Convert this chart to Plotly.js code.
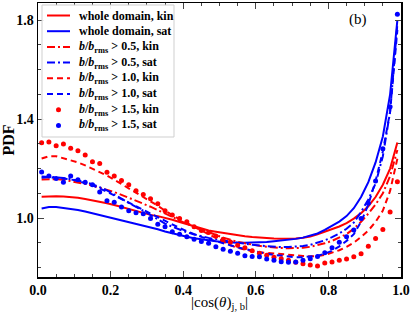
<!DOCTYPE html>
<html><head><meta charset="utf-8">
<script src="https://cdn.plot.ly/plotly-3.0.1.min.js"></script>
<style>html,body{margin:0;padding:0;background:#fff}#chart{width:415px;height:312px}</style>
</head><body><div id="chart"></div>
<script>
const cosTheta = [0.01,0.03,0.05,0.07,0.09,0.11,0.13,0.15,0.17,0.19,0.21,0.23,0.25,0.27,0.29,0.31,0.33,0.35,0.37,0.39,0.41,0.43,0.45,0.47,0.49,0.51,0.53,0.55,0.57,0.59,0.61,0.63,0.65,0.67,0.69,0.71,0.73,0.75,0.77,0.79,0.81,0.83,0.85,0.87,0.89,0.91,0.93,0.95,0.97,0.99];

const wholeKin = [1.086,1.088,1.088,1.087,1.085,1.082,1.077,1.072,1.067,1.060,1.053,1.045,1.037,1.028,1.020,1.013,1.008,1.002,0.993,0.984,0.975,0.966,0.957,0.950,0.945,0.940,0.935,0.931,0.927,0.924,0.921,0.919,0.918,0.917,0.917,0.918,0.921,0.926,0.935,0.945,0.955,0.966,0.980,0.998,1.020,1.048,1.085,1.135,1.200,1.305];
const wholeSat = [1.039,1.045,1.045,1.042,1.038,1.033,1.027,1.020,1.011,1.004,0.997,0.990,0.984,0.978,0.970,0.963,0.955,0.946,0.938,0.931,0.925,0.919,0.914,0.910,0.906,0.903,0.901,0.900,0.900,0.900,0.901,0.903,0.906,0.909,0.912,0.916,0.921,0.928,0.938,0.952,0.968,0.986,1.008,1.040,1.085,1.145,1.225,1.330,1.500,1.800];
const b05Kin = [1.156,1.158,1.157,1.155,1.150,1.145,1.138,1.132,1.124,1.115,1.105,1.094,1.083,1.070,1.058,1.046,1.033,1.020,1.005,0.990,0.977,0.965,0.955,0.945,0.932,0.921,0.911,0.904,0.898,0.892,0.888,0.884,0.881,0.879,0.878,0.878,0.880,0.884,0.890,0.898,0.908,0.920,0.935,0.957,0.985,1.018,1.055,1.100,1.170,1.275];
const b05Sat = [1.168,1.168,1.165,1.162,1.158,1.152,1.145,1.137,1.125,1.112,1.095,1.078,1.060,1.045,1.030,1.012,0.995,0.978,0.965,0.953,0.943,0.934,0.926,0.920,0.914,0.909,0.904,0.900,0.896,0.892,0.889,0.886,0.884,0.883,0.883,0.884,0.887,0.892,0.900,0.910,0.923,0.938,0.957,0.982,1.025,1.075,1.140,1.250,1.430,1.785];
const b10Kin = [1.241,1.250,1.250,1.242,1.233,1.225,1.213,1.200,1.187,1.172,1.155,1.138,1.120,1.102,1.087,1.070,1.050,1.030,1.012,0.995,0.980,0.965,0.947,0.932,0.917,0.903,0.890,0.880,0.872,0.866,0.862,0.859,0.857,0.855,0.852,0.849,0.847,0.846,0.846,0.851,0.859,0.870,0.884,0.901,0.924,0.950,0.985,1.030,1.110,1.240];
const b10Sat = [1.163,1.165,1.163,1.160,1.156,1.150,1.142,1.132,1.120,1.107,1.092,1.077,1.062,1.048,1.034,1.020,1.005,0.990,0.975,0.960,0.947,0.935,0.924,0.915,0.906,0.898,0.890,0.882,0.875,0.868,0.862,0.856,0.851,0.847,0.844,0.842,0.842,0.844,0.848,0.856,0.868,0.886,0.908,0.935,0.985,1.055,1.150,1.270,1.430,1.760];
const b15Kin = [1.304,1.307,1.292,1.299,1.282,1.272,1.255,1.228,1.221,1.185,1.170,1.152,1.135,1.110,1.095,1.078,1.058,1.030,1.012,0.998,0.985,0.965,0.950,0.942,0.928,0.915,0.903,0.890,0.880,0.868,0.858,0.850,0.842,0.836,0.830,0.822,0.816,0.810,0.806,0.819,0.823,0.830,0.835,0.844,0.856,0.886,0.918,0.954,1.025,1.147];
const b15Sat = [1.186,1.170,1.160,1.145,1.170,1.155,1.145,1.135,1.105,1.070,1.064,1.045,1.030,1.022,1.018,0.998,0.975,0.965,0.945,0.935,0.925,0.915,0.905,0.898,0.884,0.874,0.866,0.858,0.848,0.845,0.844,0.835,0.830,0.824,0.822,0.823,0.830,0.836,0.845,0.860,0.880,0.902,0.925,0.952,0.998,1.060,1.150,1.280,1.450,1.824];

const xTickVals = [0.0,0.2,0.4,0.6,0.8,1.0];
const xTickText = ['0.0','0.2','0.4','0.6','0.8','1.0'];
const yTickVals = [1.0,1.4,1.8];
const yTickText = ['1.0','1.4','1.8'];

const bb = '<i>b</i>/<i>b</i><sub>rms</sub>';
const seriesNames = ['whole domain, kin','whole domain, sat',
  bb + ' > 0.5, kin', bb + ' > 0.5, sat',
  bb + ' > 1.0, kin', bb + ' > 1.0, sat',
  bb + ' > 1.5, kin', bb + ' > 1.5, sat'];
const seriesData = [wholeKin, wholeSat, b05Kin, b05Sat, b10Kin, b10Sat, b15Kin, b15Sat];

// styles (not data)
const RED = '#ff0000', BLUE = '#0000ff';
const DASHDOT = '8px,3px,2px,3px', DASH = '6px,4px';
const styles = [
  {color: RED, dash: 'solid'}, {color: BLUE, dash: 'solid'},
  {color: RED, dash: DASHDOT}, {color: BLUE, dash: DASHDOT},
  {color: RED, dash: DASH}, {color: BLUE, dash: DASH},
  {color: RED, dots: true}, {color: BLUE, dots: true}];

const traces = seriesData.map((y, i) => {
  const s = styles[i];
  if (s.dots) return {x: cosTheta, y: y, name: seriesNames[i], type: 'scatter', mode: 'markers',
    marker: {color: s.color, size: 5}, showlegend: false};
  return {x: cosTheta, y: y, name: seriesNames[i], type: 'scatter', mode: 'lines',
    line: {color: s.color, width: 2, dash: s.dash}, showlegend: false};
});

// Legend (drawn in paper space, pixel-based layout)
const W = 415, H = 312, ML = 38, MR = 14, MT = 3, MB = 35;
const PW = W - ML - MR, PH = H - MT - MB;
const px = v => (v - ML) / PW;
const py = v => (H - MB - v) / PH;
const legBox = {x0: 42, x1: 174, y0: 5, y1: 137};
const legRow0 = 15.5, legStep = 15.7;
const shapes = [{type: 'rect', xref: 'paper', yref: 'paper', layer: 'above',
  x0: px(legBox.x0), x1: px(legBox.x1), y0: py(legBox.y1), y1: py(legBox.y0),
  fillcolor: 'rgba(255,255,255,0.92)', line: {color: '#cfcfcf', width: 1}}];
const serif = 'Liberation Serif, DejaVu Serif, serif';
const annotations = [];
seriesNames.forEach((name, i) => {
  const yc = legRow0 + i * legStep;
  const s = styles[i];
  if (s.dots) {
    shapes.push({type: 'circle', xref: 'paper', yref: 'paper', layer: 'above',
      xsizemode: 'pixel', ysizemode: 'pixel', xanchor: px(58.5), yanchor: py(yc),
      x0: -2.5, x1: 2.5, y0: -2.5, y1: 2.5, fillcolor: s.color, line: {width: 0}});
  } else {
    shapes.push({type: 'line', xref: 'paper', yref: 'paper', layer: 'above',
      x0: px(47), x1: px(70), y0: py(yc), y1: py(yc),
      line: {color: s.color, width: 2, dash: s.dash}});
  }
  annotations.push({text: name, xref: 'paper', yref: 'paper', x: px(77), y: py(yc),
    xanchor: 'left', yanchor: 'middle', showarrow: false,
    font: {family: serif, size: 12, color: '#000', weight: 'bold'}});
});
annotations.push({text: '(b)', xref: 'paper', yref: 'paper', x: px(358), y: py(19),
  xanchor: 'center', yanchor: 'middle', showarrow: false,
  font: {family: serif, size: 15, color: '#000'}});

const tickFont = {family: serif, size: 14, color: '#000', weight: 'bold'};
const layout = {
  width: W, height: H,
  margin: {l: ML, r: MR, t: MT, b: MB},
  paper_bgcolor: '#fff', plot_bgcolor: '#fff',
  showlegend: false,
  xaxis: {range: [0, 1.0], tickvals: xTickVals, ticktext: xTickText,
    ticks: 'inside', ticklen: 6, tickwidth: 1, tickcolor: '#444',
    showline: true, linecolor: '#000', linewidth: 1.5, mirror: 'allticks',
    showgrid: false, zeroline: false, tickfont: tickFont,
    minor: {dtick: 0.05, tick0: 0, ticks: 'inside', ticklen: 3, tickcolor: '#444', showgrid: false},
    title: {text: '|cos(<i>θ</i>)<sub>j, b</sub>|', font: {family: serif, size: 15, color: '#000'}, standoff: 4}},
  yaxis: {range: [0.762, 1.869], tickvals: yTickVals, ticktext: yTickText,
    ticks: 'inside', ticklen: 6, tickwidth: 1, tickcolor: '#444',
    showline: true, linecolor: '#000', linewidth: 1.5, mirror: 'allticks',
    showgrid: false, zeroline: false, tickfont: tickFont,
    minor: {dtick: 0.1, tick0: 1.0, ticks: 'inside', ticklen: 3, tickcolor: '#444', showgrid: false},
    title: {text: 'PDF', font: {family: serif, size: 16, color: '#000', weight: 'bold'}, standoff: 3}},
  shapes: shapes,
  annotations: annotations
};
Plotly.newPlot('chart', traces, layout, {displayModeBar: false, staticPlot: true});
</script></body></html>
